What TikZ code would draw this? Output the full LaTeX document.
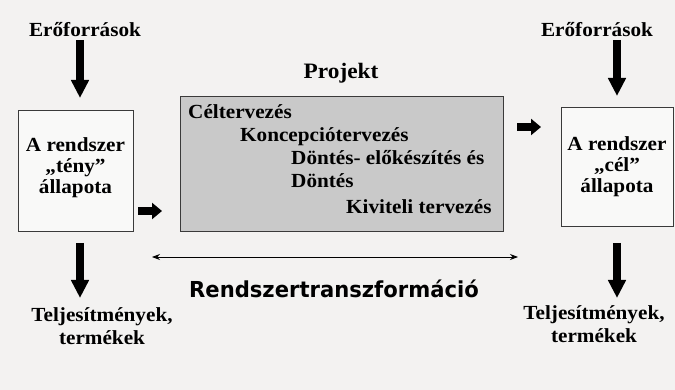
\documentclass[tikz,border=0pt]{standalone}
\usepackage{fontspec}
\setmainfont{Liberation Serif}[FakeStretch=1.06]
\newfontfamily\titlesans{DejaVu Sans}[FakeStretch=0.96]
\usetikzlibrary{arrows.meta}
\definecolor{bg}{HTML}{F3F2F1}
\definecolor{boxfill}{HTML}{F9F9F8}
\definecolor{projfill}{HTML}{C9C9C9}
\definecolor{edge}{HTML}{3A3A3A}
\tikzset{
  lbl/.style={font=\bfseries\fontsize{20}{21}\selectfont, align=center, inner sep=0pt},
  outlbl/.style={font=\bfseries\fontsize{20}{23}\selectfont, align=center, inner sep=0pt},
  proj/.style={font=\bfseries\fontsize{20}{23}\selectfont, anchor=base west, inner sep=0pt},
  statebox/.style={draw=edge, line width=1.2pt, fill=boxfill},
  bigarrow/.style={line width=7.5pt, -{Triangle[width=17pt,length=18pt]}},
  smallarrow/.style={line width=8pt, -{Triangle[width=16pt,length=10pt]}},
  thinarrow/.style={line width=0.9pt, {Stealth[length=8pt,width=6pt]}-{Stealth[length=8pt,width=6pt]}},
}
\begin{document}
\begin{tikzpicture}[x=1pt,y=-1pt]
\fill[bg] (0,0) rectangle (675,390);
\useasboundingbox (0,0) rectangle (675,390);

% left state box
\node[statebox, minimum width=115pt, minimum height=121pt, anchor=north west] (leftbox) at (18,110) {};
\node[lbl] (lefttxt) at (75.5,168) {A rendszer\\„tény”\\állapota};

% project box
\node[draw=edge, line width=1.2pt, fill=projfill, minimum width=323pt, minimum height=135pt, anchor=north west] (projbox) at (180,96) {};
\node[font=\bfseries\fontsize{22}{26}\selectfont, inner sep=0pt] (projtitle) at (341,73) {Projekt};
\node[proj] (p1) at (188,119) {Céltervezés};
\node[proj] (p2) at (240,141.5) {Koncepciótervezés};
\node[proj] (p3) at (291,165) {Döntés- előkészítés és};
\node[proj] (p4) at (291,188) {Döntés};
\node[proj] (p5) at (346,214) {Kiviteli tervezés};

% right state box
\node[statebox, minimum width=112pt, minimum height=119pt, anchor=north west] (rightbox) at (561,107) {};
\node[lbl] (righttxt) at (617,167) {A rendszer\\„cél”\\állapota};

% inputs
\node[lbl] (resL) at (85,30) {Erőforrások};
\node[lbl] (resR) at (597,30) {Erőforrások};
% outputs
\node[outlbl] (outL) at (102,326) {Teljesítmények,\\termékek};
\node[outlbl] (outR) at (594,324) {Teljesítmények,\\termékek};

% arrow end points
\coordinate (inLa) at (80,40);  \coordinate (inLb) at (80,98);
\coordinate (inRa) at (617,40); \coordinate (inRb) at (617,96);
\coordinate (outLa) at (80,243); \coordinate (outLb) at (80,298);
\coordinate (outRa) at (617,243); \coordinate (outRb) at (617,298);
\coordinate (midLa) at (138,211); \coordinate (midLb) at (162,211);
\coordinate (midRa) at (517,127); \coordinate (midRb) at (541,127);
\coordinate (trA) at (152,257); \coordinate (trB) at (518,257);

\draw[bigarrow] (inLa) -- (inLb);
\draw[bigarrow] (inRa) -- (inRb);
\draw[bigarrow] (outLa) -- (outLb);
\draw[bigarrow] (outRa) -- (outRb);
\draw[smallarrow] (midLa) -- (midLb);
\draw[smallarrow] (midRa) -- (midRb);
\draw[thinarrow] (trA) -- (trB);

\node[font=\titlesans\bfseries\fontsize{22}{26}\selectfont, inner sep=0pt] (transf) at (334,289) {Rendszertranszformáció};
\end{tikzpicture}
\end{document}
